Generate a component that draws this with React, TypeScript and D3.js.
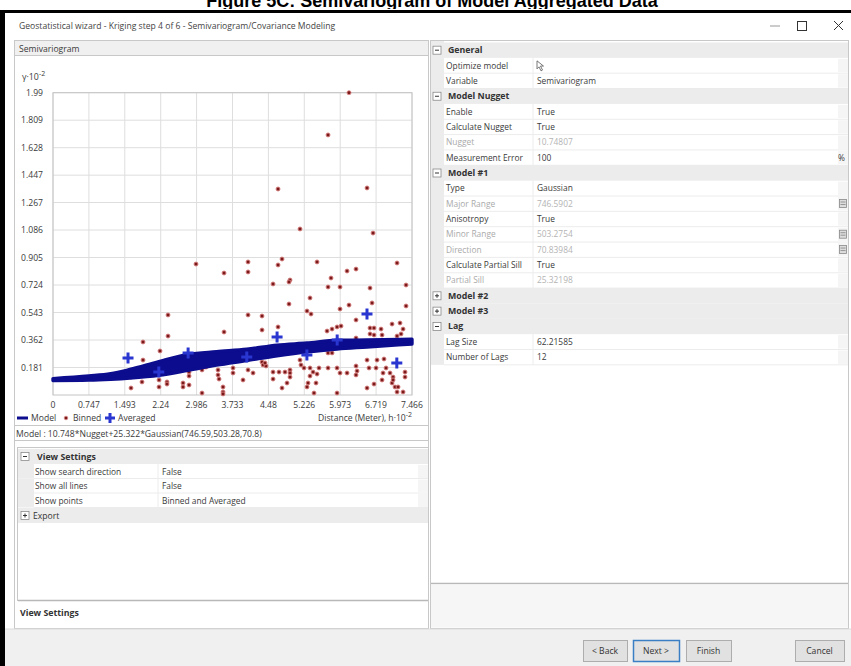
import React from 'react';
import * as d3 from 'd3';

const xTickValues = [0, 0.747, 1.493, 2.24, 2.986, 3.733, 4.48, 5.226, 5.973, 6.719, 7.466];
const xTickLabels = ['0', '0.747', '1.493', '2.24', '2.986', '3.733', '4.48', '5.226', '5.973', '6.719', '7.466'];
const yTickValues = [0.181, 0.362, 0.543, 0.724, 0.905, 1.086, 1.267, 1.447, 1.628, 1.809, 1.99];
const yTickLabels = ['0.181', '0.362', '0.543', '0.724', '0.905', '1.086', '1.267', '1.447', '1.628', '1.809', '1.99'];

// model band (edges)
const modelX = [0, 0.747, 1.2, 1.6, 2.2, 2.81, 3.4, 4.03, 4.66, 5.28, 5.91, 6.53, 7.466];
const modelLow = [0.095, 0.098, 0.104, 0.112, 0.13, 0.163, 0.197, 0.227, 0.258, 0.284, 0.303, 0.316, 0.336];
const modelHigh = [0.108, 0.125, 0.14, 0.168, 0.22, 0.267, 0.285, 0.301, 0.328, 0.342, 0.36, 0.362, 0.367];

const averagedX = [1.56, 2.2, 2.81, 4.03, 4.66, 5.28, 5.91, 6.53, 7.15];
const averagedY = [0.244, 0.151, 0.277, 0.25, 0.382, 0.263, 0.362, 0.533, 0.21];

const binnedX = [
  6.156, 5.72, 4.68, 6.531, 5.137, 6.656, 2.974, 4.056, 4.68, 4.763, 5.491, 7.155, 3.557, 4.056, 5.782, 6.115, 6.302, 4.929,
  4.576, 4.908, 5.72, 5.969, 7.342, 6.593, 4.908, 5.345, 5.969, 6.156, 6.635, 7.342, 5.283, 5.366, 2.392, 4.056, 4.347, 6.302,
  6.593, 6.676, 6.822, 7.051, 7.217, 7.28, 4.68, 4.347, 5.699, 5.803, 5.907, 5.99, 6.593, 6.676, 6.843, 7.155, 7.238, 6.302,
  1.872, 2.392, 3.557, 5.72, 5.803, 5.158, 2.225, 1.872,
  3.744, 3.744, 3.952, 4.16, 4.056, 4.347, 4.368, 4.43, 4.409, 4.576, 4.7, 4.825, 4.929, 4.929, 4.929, 4.867, 4.576, 4.763,
  5.137, 5.158, 5.22, 5.345, 5.408, 5.491, 5.345, 5.304, 5.283, 5.428, 5.72, 5.907, 5.969, 5.907, 6.115, 6.302, 6.323, 6.302,
  6.531, 6.572, 6.739, 6.718, 6.884, 6.926, 6.864, 6.676, 6.531, 6.843, 7.009, 7.072, 7.051, 7.113, 7.176, 7.321, 7.321, 7.28,
  7.155, 7.072, 5.532, 5.47,
  3.182, 3.099, 1.622, 1.622, 1.851, 2.205, 2.205, 2.371, 2.371, 2.704, 2.704, 2.829, 2.829, 2.829, 3.099, 3.432, 3.432, 3.453,
  3.536, 3.536, 3.536,
];
const binnedY = [
  1.99, 1.712, 1.356, 1.363, 1.093, 1.066, 0.862, 0.876, 0.856, 0.895, 0.876, 0.869, 0.803, 0.81, 0.77, 0.816, 0.829, 0.757,
  0.731, 0.744, 0.711, 0.711, 0.724, 0.704, 0.599, 0.639, 0.566, 0.592, 0.606, 0.586, 0.553, 0.533, 0.527, 0.527, 0.52, 0.494,
  0.441, 0.441, 0.434, 0.467, 0.474, 0.434, 0.448, 0.428, 0.421, 0.434, 0.448, 0.454, 0.402, 0.395, 0.395, 0.388, 0.402, 0.375,
  0.349, 0.388, 0.415, 0.277, 0.277, 0.296, 0.29, 0.23,
  0.178, 0.145, 0.099, 0.145, 0.165, 0.217, 0.198, 0.191, 0.211, 0.151, 0.151, 0.151, 0.165, 0.145, 0.118, 0.079, 0.105, 0.046,
  0.23, 0.198, 0.178, 0.178, 0.151, 0.138, 0.125, 0.079, 0.053, 0.013, 0.178, 0.178, 0.145, 0.013, 0.145, 0.191, 0.158, 0.132,
  0.23, 0.178, 0.23, 0.178, 0.237, 0.178, 0.145, 0.072, 0.046, 0.099, 0.145, 0.118, 0.079, 0.053, 0.053, 0.118, 0.151, 0.02,
  0.02, 0.099, 0.178, 0.079,
  0.184, 0.165, 0.118, 0.046, 0.086, 0.099, 0.053, 0.086, 0.072, 0.079, 0.053, 0.151, 0.125, 0.066, 0.013, 0.165, 0.132, 0.105,
  0.02, 0.007, 0.053,
];

const propKinds = ['cat-open', 'prop', 'prop', 'cat-open', 'prop', 'prop', 'prop', 'prop', 'cat-open', 'prop', 'prop', 'prop', 'prop', 'prop', 'prop', 'prop', 'cat-closed', 'cat-closed', 'cat-open', 'prop', 'prop'];
const propNames = ['General', 'Optimize model', 'Variable', 'Model Nugget', 'Enable', 'Calculate Nugget', 'Nugget', 'Measurement Error', 'Model #1', 'Type', 'Major Range', 'Anisotropy', 'Minor Range', 'Direction', 'Calculate Partial Sill', 'Partial Sill', 'Model #2', 'Model #3', 'Lag', 'Lag Size', 'Number of Lags'];
const propValues = ['', '', 'Semivariogram', '', 'True', 'True', '10.74807', '100', '', 'Gaussian', '746.5902', 'True', '503.2754', '70.83984', 'True', '25.32198', '', '', '', '62.21585', '12'];
const propDisabled = [false, false, false, false, false, false, true, false, false, false, true, false, true, true, false, true, false, false, false, false, false];
const propCalcIcon = [false, false, false, false, false, false, false, false, false, false, true, false, true, true, false, false, false, false, false, false, false];

const viewNames = ['Show search direction', 'Show all lines', 'Show points'];
const viewValues = ['False', 'False', 'Binned and Averaged'];

const FONT = "'Open Sans', 'Noto Sans', Arial, sans-serif";
const TXT = '#3a3a3a';

function SignBox({ x, y, open }: { x: number; y: number; open: boolean }) {
  return (
    <g>
      <rect x={x} y={y} width={8} height={8} fill="#fff" stroke="#8a8a8a" strokeWidth={0.8} />
      <line x1={x + 2} x2={x + 6} y1={y + 4} y2={y + 4} stroke="#333" strokeWidth={1} />
      {!open && <line x1={x + 4} x2={x + 4} y1={y + 2} y2={y + 6} stroke="#333" strokeWidth={1} />}
    </g>
  );
}

export default function App() {
  const W = 851;
  const H = 666;
  const x = d3.scaleLinear().domain([0, 7.466]).range([53, 412]);
  const y = d3.scaleLinear().domain([0, 1.99]).range([395, 92.7]);

  const band = d3
    .area<number>()
    .x((_, i) => x(modelX[i]))
    .y0((_, i) => y(modelLow[i]))
    .y1((_, i) => y(modelHigh[i]))
    .curve(d3.curveMonotoneX)(modelX) as string;

  const rowH = 15.35;
  const rowTop = 42.5;

  return (
    <div style={{ position: 'absolute', left: 0, top: 0 }}>
      <svg width={W} height={H} style={{ display: 'block', fontFamily: FONT }}>
        <rect x={0} y={0} width={W} height={H} fill="#fff" />
        {/* caption above the window, clipped by the window edge as in the source */}
        <text x={432} y={7} textAnchor="middle" fontFamily="'Liberation Sans', Arial, sans-serif" fontWeight="bold" fontSize={18} fill="#000">
          Figure 5C: Semivariogram of Model Aggregated Data
        </text>
        <rect x={0} y={9} width={W} height={H} fill="#fff" />
        <rect x={0} y={10} width={W} height={3} fill="#000" />
        <rect x={0} y={10} width={5} height={H - 10} fill="#000" />

        {/* title bar */}
        <text x={19} y={29} fontSize={8.6} fill="#444">
          Geostatistical wizard - Kriging step 4 of 6 - Semivariogram/Covariance Modeling
        </text>
        <line x1={770} x2={780} y1={26} y2={26} stroke="#999" strokeWidth={1} />
        <rect x={797.5} y={21.5} width={9} height={9} fill="none" stroke="#333" strokeWidth={1} />
        <line x1={834} x2={843} y1={21} y2={30} stroke="#333" strokeWidth={1} />
        <line x1={843} x2={834} y1={21} y2={30} stroke="#333" strokeWidth={1} />

        {/* left pane */}
        <rect x={14.5} y={40.5} width={414} height={588} fill="#fff" stroke="#c8c8c8" />
        <rect x={14.5} y={40.5} width={414} height={15} fill="#f0f0f0" stroke="#c8c8c8" />
        <text x={19} y={51.5} fontSize={8.6} fill={TXT}>Semivariogram</text>

        {/* chart */}
        <text x={22} y={80} fontSize={8.8} fill={TXT}>
          γ·10<tspan dy={-4} fontSize={7}>-2</tspan>
        </text>
        {yTickValues.map((v) => (
          <line key={'gy' + v} x1={x(0)} x2={x(7.466)} y1={y(v)} y2={y(v)} stroke="#dedede" strokeWidth={1} />
        ))}
        {xTickValues.map((v) => (
          <line key={'gx' + v} x1={x(v)} x2={x(v)} y1={y(0)} y2={y(1.99)} stroke="#dedede" strokeWidth={1} />
        ))}
        <rect x={x(0)} y={y(1.99)} width={x(7.466) - x(0)} height={y(0) - y(1.99)} fill="none" stroke="#c4c4c4" />
        {yTickValues.map((v, i) => (
          <text key={'ly' + v} x={43} y={y(v) + 3} textAnchor="end" fontSize={8.6} fill={TXT}>
            {yTickLabels[i]}
          </text>
        ))}
        {xTickValues.map((v, i) => (
          <text key={'lx' + v} x={x(v)} y={408} textAnchor="middle" fontSize={8.6} fill={TXT}>
            {xTickLabels[i]}
          </text>
        ))}

        {binnedX.map((bx, i) => (
          <circle key={'b' + i} cx={x(bx)} cy={y(binnedY[i])} r={2} fill="#7a1a1a" stroke="#db8585" strokeWidth={0.9} />
        ))}
        <path d={band} fill="#0c0c8e" stroke="#0c0c8e" strokeWidth={3.4} strokeLinejoin="round" />
        {averagedX.map((ax, i) => (
          <path
            key={'a' + i}
            d={`M${x(ax) - 5.5},${y(averagedY[i])}H${x(ax) + 5.5}M${x(ax)},${y(averagedY[i]) - 5.5}V${y(averagedY[i]) + 5.5}`}
            stroke="#2a36d0"
            strokeWidth={3}
          />
        ))}

        {/* legend */}
        <line x1={17} x2={28} y1={418} y2={418} stroke="#0c0c8e" strokeWidth={3} />
        <text x={31} y={421} fontSize={8.6} fill={TXT}>Model</text>
        <circle cx={66} cy={418} r={1.8} fill="#7a1a1a" stroke="#db8585" strokeWidth={0.8} />
        <text x={73} y={421} fontSize={8.6} fill={TXT}>Binned</text>
        <path d="M105,418H115M110,413V423" stroke="#2a36d0" strokeWidth={3} />
        <text x={118} y={421} fontSize={8.6} fill={TXT}>Averaged</text>
        <text x={412} y={421} textAnchor="end" fontSize={8.6} fill={TXT}>
          Distance (Meter), h·10<tspan dy={-4} fontSize={7}>-2</tspan>
        </text>

        <rect x={14.5} y={425.5} width={414} height={15} fill="#fff" stroke="#c8c8c8" />
        <text x={16} y={436.5} fontSize={8.6} fill={TXT}>
          Model : 10.748*Nugget+25.322*Gaussian(746.59,503.28,70.8)
        </text>

        {/* view settings grid */}
        <rect x={17.5} y={447.5} width={411} height={153} fill="#fff" stroke="#c8c8c8" />
        <rect x={18} y={449} width={410} height={15} fill="#ececec" />
        <SignBox x={21} y={452.5} open={true} />
        <text x={37} y={460} fontSize={8.8} fontWeight="bold" fill="#333">View Settings</text>
        {viewNames.map((n, i) => (
          <g key={'v' + i}>
            <rect x={18} y={464 + i * 14.5} width={16} height={14.5} fill="#ececec" />
            <line x1={34} x2={428} y1={478.5 + i * 14.5} y2={478.5 + i * 14.5} stroke="#ececec" />
            <line x1={158} x2={158} y1={464 + i * 14.5} y2={478.5 + i * 14.5} stroke="#ececec" />
            <rect x={418} y={465 + i * 14.5} width={10} height={13} fill="#f5f5f5" />
            <text x={35} y={474.5 + i * 14.5} fontSize={8.4} fill={TXT}>{n}</text>
            <text x={162} y={474.5 + i * 14.5} fontSize={8.4} fill={TXT}>{viewValues[i]}</text>
          </g>
        ))}
        <rect x={18} y={508} width={410} height={15} fill="#ececec" />
        <SignBox x={21} y={511.5} open={false} />
        <text x={33} y={519} fontSize={8.6} fill="#333">Export</text>
        <line x1={18} x2={428} y1={600.5} y2={600.5} stroke="#b8b8b8" strokeWidth={1.5} />
        <text x={20} y={616} fontSize={8.8} fontWeight="bold" fill="#333">View Settings</text>

        {/* right pane */}
        <rect x={430.5} y={40.5} width={418} height={588} fill="#fff" stroke="#c8c8c8" />
        <rect x={431} y={41} width={13} height={rowTop + 21 * rowH - 41} fill="#ececec" />
        {propNames.map((n, i) => {
          const top = rowTop + i * rowH;
          const base = top + rowH / 2 + 3;
          const kind = propKinds[i];
          if (kind !== 'prop') {
            return (
              <g key={'p' + i}>
                <rect x={431} y={top} width={417} height={rowH} fill="#ececec" />
                <SignBox x={433} y={top + 3.7} open={kind === 'cat-open'} />
                <text x={448} y={base} fontSize={8.8} fontWeight="bold" fill="#333">{n}</text>
              </g>
            );
          }
          return (
            <g key={'p' + i}>
              <line x1={444} x2={848} y1={top + rowH} y2={top + rowH} stroke="#ececec" />
              <line x1={533} x2={533} y1={top} y2={top + rowH} stroke="#ececec" />
              <rect x={838} y={top + 1} width={10} height={rowH - 2} fill="#f5f5f5" />
              <text x={446} y={base} fontSize={8.4} fill={propDisabled[i] ? '#aaa' : TXT}>{n}</text>
              <text x={537} y={base} fontSize={8.4} fill={propDisabled[i] ? '#b4b4b4' : TXT}>{propValues[i]}</text>
              {n === 'Optimize model' && (
                <g>
                  <path d={`M537,${top + 3}l0,8l2,-2l2,4l1.5,-0.8l-2,-4l3,0z`} fill="#fff" stroke="#555" strokeWidth={0.8} />
                </g>
              )}
              {n === 'Measurement Error' && (
                <text x={838} y={base} fontSize={8.4} fill={TXT}>%</text>
              )}
              {propCalcIcon[i] && (
                <g>
                  <rect x={839.5} y={top + 3.5} width={7} height={8} fill="#ddd" stroke="#888" strokeWidth={0.8} />
                  <line x1={840.5} x2={845.5} y1={top + 6} y2={top + 6} stroke="#777" strokeWidth={0.7} />
                  <line x1={840.5} x2={845.5} y1={top + 8.5} y2={top + 8.5} stroke="#777" strokeWidth={0.7} />
                </g>
              )}
            </g>
          );
        })}
        <line x1={431} x2={848} y1={583.5} y2={583.5} stroke="#b8b8b8" strokeWidth={1.5} />
        <rect x={431} y={584.5} width={417} height={43} fill="#f6f6f6" />

        {/* bottom button strip */}
        <rect x={5} y={629} width={846} height={37} fill="#f0f0f0" />
        <line x1={5} x2={851} y1={629} y2={629} stroke="#dcdcdc" />
        {[
          { x0: 583, w: 44, t: '< Back', hl: false },
          { x0: 633, w: 46, t: 'Next >', hl: true },
          { x0: 686, w: 45, t: 'Finish', hl: false },
          { x0: 795, w: 49, t: 'Cancel', hl: false },
        ].map((b) => (
          <g key={b.t}>
            <rect x={b.x0 + 0.5} y={640.5} width={b.w} height={21} fill="#e1e1e1" stroke={b.hl ? '#3a7fc4' : '#adadad'} strokeWidth={b.hl ? 1.5 : 1} />
            <text x={b.x0 + b.w / 2} y={654} textAnchor="middle" fontSize={8.6} fill="#333">{b.t}</text>
          </g>
        ))}
      </svg>
    </div>
  );
}
